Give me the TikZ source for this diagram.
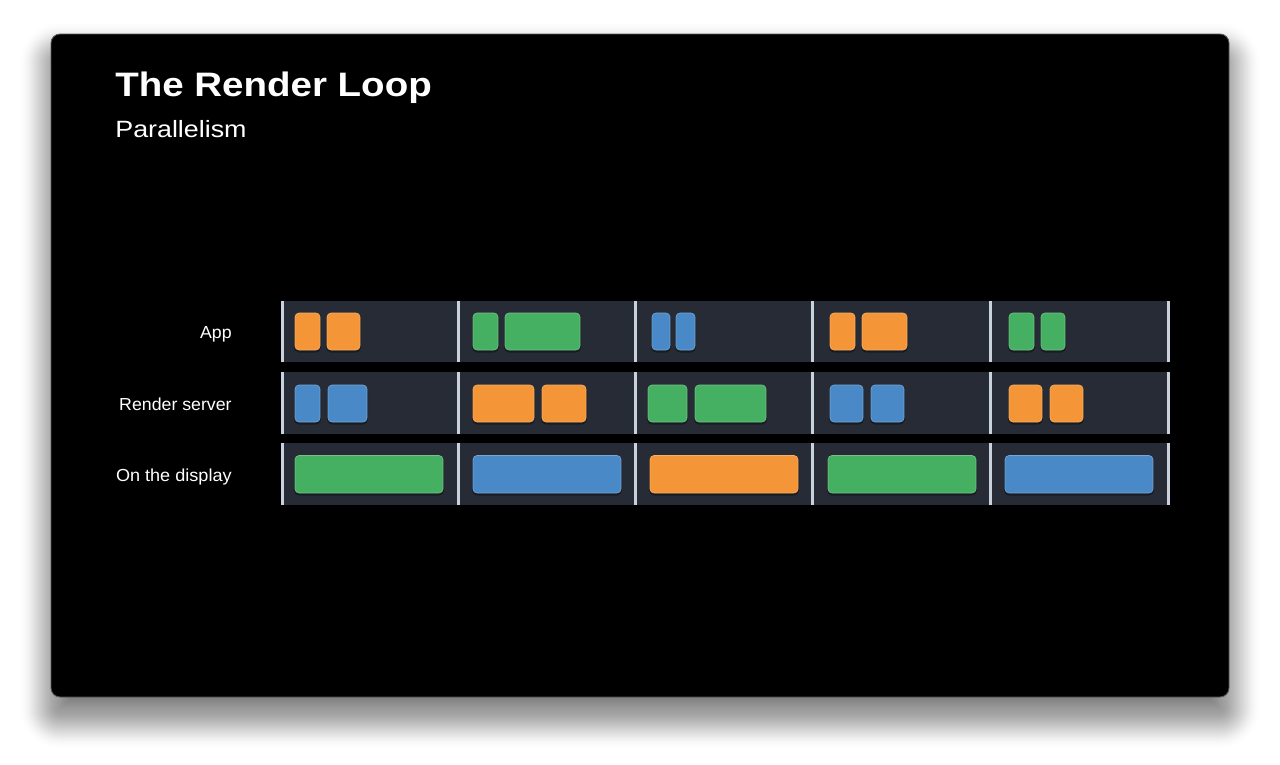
\documentclass[tikz,border=0pt]{standalone}
\usepackage{fontspec}
\setmainfont{Liberation Sans}
\definecolor{rowbg}{HTML}{262B35}
\definecolor{divc}{HTML}{C9D1DC}
\definecolor{org}{HTML}{F49537}
\definecolor{grn}{HTML}{45B062}
\definecolor{blu}{HTML}{4A89C8}
\definecolor{slideedge}{HTML}{5A5A5A}
\newcommand\tlblock[5]{%
  \fill[black,opacity=0.35,rounded corners=0.1cm] (#2-1,#3+0.5) rectangle (#4+1,#5+2.5);
  \filldraw[fill=#1,draw=#1!75!white,line width=0.35pt,rounded corners=0.08cm] (#2,#3) rectangle (#4,#5);}
\begin{document}
\begin{tikzpicture}[x=0.02cm,y=-0.02cm,
  lbl/.style={anchor=base east,inner sep=0pt,text=white,font=\fontsize{9.9}{12}\selectfont},
  rowstyle/.style={fill=rowbg},
  divider/.style={fill=divc}]
\useasboundingbox (0,0) rectangle (1280,764);
\fill[white] (0,0) rectangle (1280,764);
% slide shadow
\foreach \i in {-32,...,26}{
  \pgfmathsetmacro\dd{\i*1.25}
  \pgfmathsetmacro\rr{max(0.05,0.18+\dd*0.02)}
  \pgfmathsetmacro\op{\i>14 ? 0.017*(27-\i)/13 : 0.017}
  \fill[black,opacity=\op,rounded corners=\rr cm] (51-\dd,54-\dd) rectangle (1229+\dd,717+\dd);
}
% slide
\filldraw[fill=black,draw=slideedge,line width=0.5pt,rounded corners=0.18cm] (51,34) rectangle (1229,697);
% title
\node[anchor=base west,inner sep=0pt,text=white,font=\bfseries\fontsize{19.3}{23}\selectfont] (title) at (115,96.5) {\scalebox{1.135}[1]{The Render Loop}};
\node[anchor=base west,inner sep=0pt,text=white,font=\fontsize{13.4}{16}\selectfont] (subtitle) at (115,137) {\scalebox{1.14}[1]{Parallelism}};
% row labels
\node[lbl] (lapp) at (232,338.5) {\scalebox{1.02}[1]{App}};
\node[lbl] (lrs) at (232,410) {\scalebox{1.02}[1]{Render server}};
\node[lbl] (ldisp) at (232,481) {\scalebox{1.04}[1]{On the display}};
% rows
\foreach \t/\b in {301/362,372/434,443/505}{
  \fill[rowstyle] (282,\t) rectangle (1169,\b);
  \foreach \x in {282.5,458,635.5,812.5,990,1168}{
    \fill[divider] (\x-1.5,\t) rectangle (\x+1.5,\b);
  }
}
% row 1: App
\tlblock{org}{295}{313}{320}{350}
\tlblock{org}{327}{313}{360}{350}
\tlblock{grn}{473}{313}{498}{350}
\tlblock{grn}{505}{313}{580}{350}
\tlblock{blu}{652}{313}{670}{350}
\tlblock{blu}{676}{313}{695}{350}
\tlblock{org}{830}{313}{855}{350}
\tlblock{org}{862}{313}{907}{350}
\tlblock{grn}{1009}{313}{1034}{350}
\tlblock{grn}{1041}{313}{1065}{350}
% row 2: Render server
\tlblock{blu}{295}{385}{320}{422}
\tlblock{blu}{328}{385}{367}{422}
\tlblock{org}{473}{385}{534}{422}
\tlblock{org}{542}{385}{586}{422}
\tlblock{grn}{648}{385}{687}{422}
\tlblock{grn}{695}{385}{766}{422}
\tlblock{blu}{830}{385}{863}{422}
\tlblock{blu}{871}{385}{904}{422}
\tlblock{org}{1009}{385}{1042}{422}
\tlblock{org}{1050}{385}{1083}{422}
% row 3: On the display
\tlblock{grn}{295}{455.5}{443}{493}
\tlblock{blu}{473}{455.5}{621}{493}
\tlblock{org}{650}{455.5}{798}{493}
\tlblock{grn}{828}{455.5}{976}{493}
\tlblock{blu}{1005}{455.5}{1153}{493}
\end{tikzpicture}
\end{document}
